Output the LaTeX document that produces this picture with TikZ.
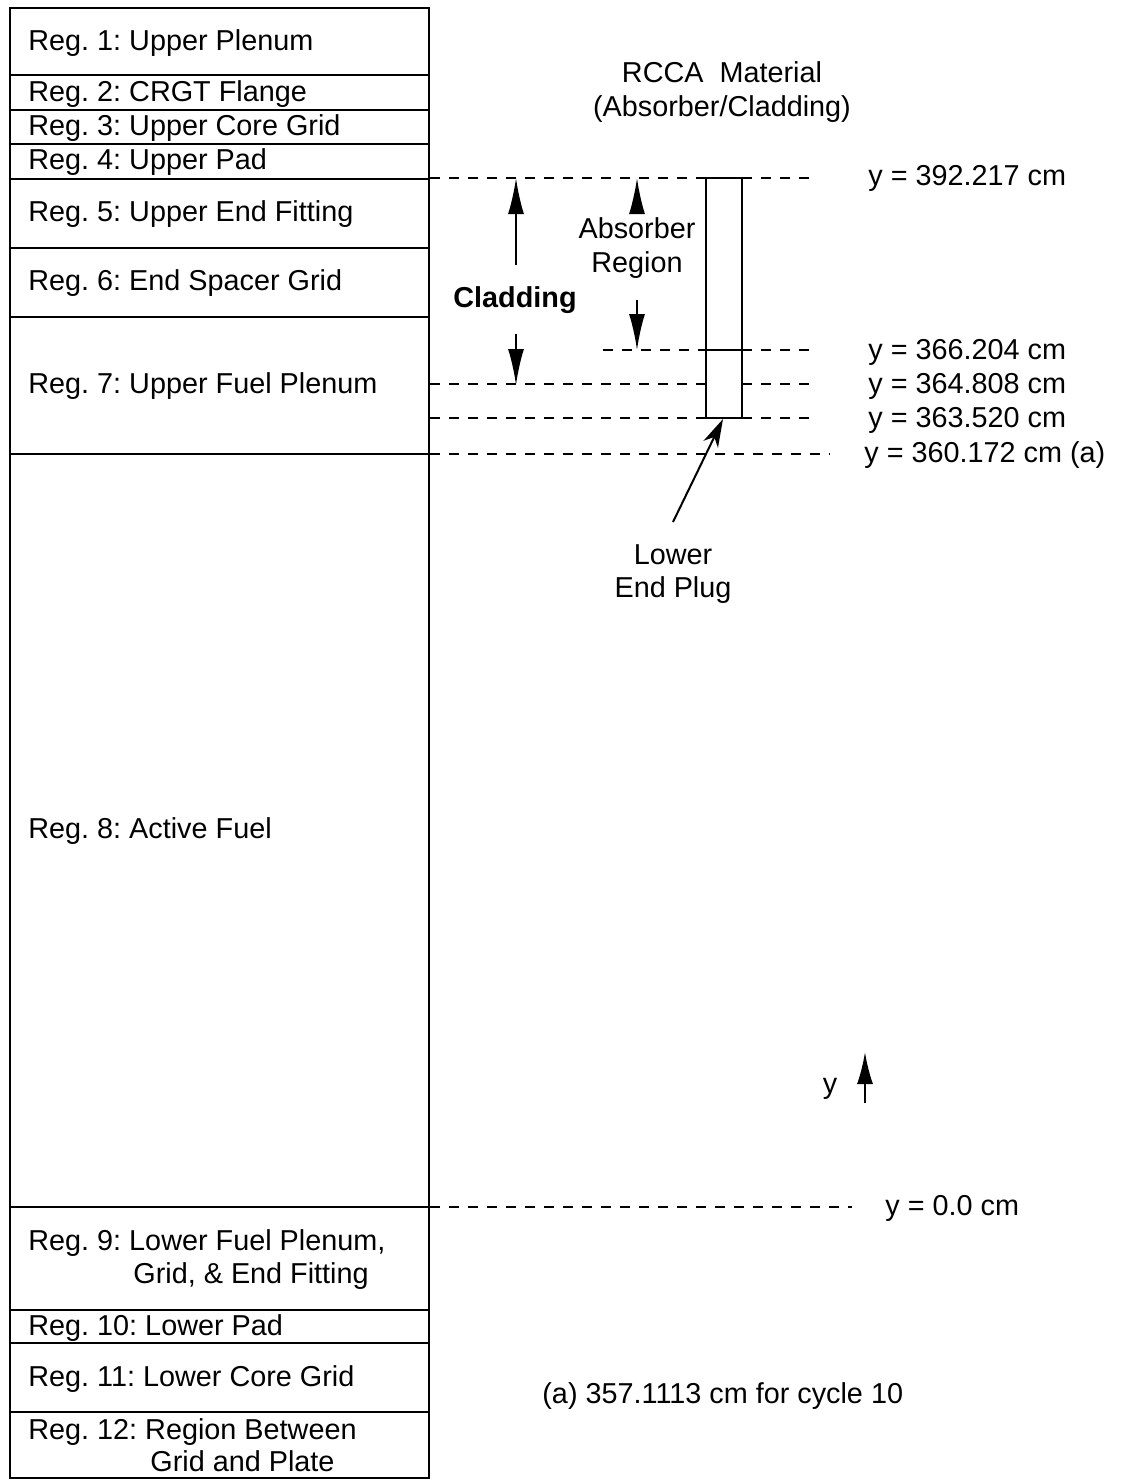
\documentclass[tikz,border=0pt]{standalone}
\usepackage{fontspec}
\setmainfont{Liberation Sans}
\usetikzlibrary{arrows.meta}
\frenchspacing
\begin{document}
\begin{tikzpicture}[x=0.5pt,y=-0.5pt,
  every node/.style={inner sep=0pt,font=\fontsize{14.4}{17}\selectfont},
  lbl/.style={anchor=base west},
  ctr/.style={anchor=base},
  frame/.style={line width=1.3pt},
  ref/.style={line width=0.6pt,dash pattern=on 5pt off 4.5pt},
  bigarr/.style={line width=1pt,-{Latex[length=18pt,width=8pt]}},
  plugarr/.style={line width=1pt,-{Stealth[length=14pt,width=8pt,inset=4pt]}}]
\useasboundingbox (0,0) rectangle (1125,1480);
% fuel assembly column
\draw[frame] (10,8) rectangle (429,1478);
\foreach \yy in {75,110,144,179,248,317,454,1207,1310,1343,1412}
  \draw[frame] (10,\yy) -- (429,\yy);
% region labels
\node[lbl] (r1) at (28,50) {Reg. 1: Upper Plenum};
\node[lbl] (r2) at (28,101) {Reg. 2: CRGT Flange};
\node[lbl] (r3) at (28,135) {Reg. 3: Upper Core Grid};
\node[lbl] (r4) at (28,169) {Reg. 4: Upper Pad};
\node[lbl] (r5) at (28,221) {Reg. 5: Upper End Fitting};
\node[lbl] (r6) at (28,290) {Reg. 6: End Spacer Grid};
\node[lbl] (r7) at (28,393) {Reg. 7: Upper Fuel Plenum};
\node[lbl] (r8) at (28,838) {Reg. 8: Active Fuel};
\node[lbl] (r9a) at (28,1250) {Reg. 9: Lower Fuel Plenum,};
\node[lbl] (r9b) at (133,1283) {Grid, \& End Fitting};
\node[lbl] (r10) at (28,1335) {Reg. 10: Lower Pad};
\node[lbl] (r11) at (28,1386) {Reg. 11: Lower Core Grid};
\node[lbl] (r12a) at (28,1439) {Reg. 12: Region Between};
\node[lbl] (r12b) at (150,1471) {Grid and Plate};
% RCCA rod
\draw[line width=1.1pt] (706,178) rectangle (742,418);
\draw[line width=1.1pt] (706,350) -- (742,350);
\node[ctr] (t1) at (722,82) {RCCA\ \ Material};
\node[ctr] (t2) at (722,116) {(Absorber/Cladding)};
% reference lines
\draw[ref] (430,178) -- (706,178);
\draw[ref] (742,178) -- (818,178);
\draw[ref] (603,350) -- (706,350);
\draw[ref] (742,350) -- (818,350);
\draw[ref] (430,384) -- (706,384);
\draw[ref] (742,384) -- (818,384);
\draw[ref] (430,418) -- (706,418);
\draw[ref] (742,418) -- (818,418);
\draw[ref] (430,454) -- (830,454);
\draw[ref] (430,1207) -- (852,1207);
% elevation labels
\node[lbl] (e1) at (868,185) {y = 392.217 cm};
\node[lbl] (e2) at (868,359) {y = 366.204 cm};
\node[lbl] (e3) at (868,393) {y = 364.808 cm};
\node[lbl] (e4) at (868,427) {y = 363.520 cm};
\node[lbl] (e5) at (864,462) {y = 360.172 cm (a)};
\node[lbl] (e6) at (885,1215) {y = 0.0 cm};
\node[lbl] (note) at (542,1403) {(a) 357.1113 cm for cycle 10};
% cladding
\node[ctr,font=\fontsize{14.4}{17}\selectfont\bfseries] (clad) at (515,307) {Cladding};
\coordinate (cu1) at (516,265); \coordinate (cu2) at (516,178);
\coordinate (cd1) at (516,334); \coordinate (cd2) at (516,385);
\draw[bigarr] (cu1) -- (cu2);
\draw[bigarr] (cd1) -- (cd2);
% absorber
\node[ctr] (abs1) at (637,238) {Absorber};
\node[ctr] (abs2) at (637,272) {Region};
\coordinate (au1) at (637,212); \coordinate (au2) at (637,178);
\coordinate (ad1) at (637,300); \coordinate (ad2) at (637,350);
\draw[bigarr] (au1) -- (au2);
\draw[bigarr] (ad1) -- (ad2);
% lower end plug
\node[ctr] (lp1) at (673,564) {Lower};
\node[ctr] (lp2) at (673,597) {End Plug};
\coordinate (pt) at (673,522); \coordinate (ph) at (723,419);
\draw[plugarr] (pt) -- (ph);
% y axis
\node[ctr] (yax) at (830,1093) {y};
\coordinate (ya1) at (865,1103); \coordinate (ya2) at (865,1052);
\draw[line width=1pt,-{Latex[length=16pt,width=8pt]}] (ya1) -- (ya2);
\end{tikzpicture}
\end{document}
